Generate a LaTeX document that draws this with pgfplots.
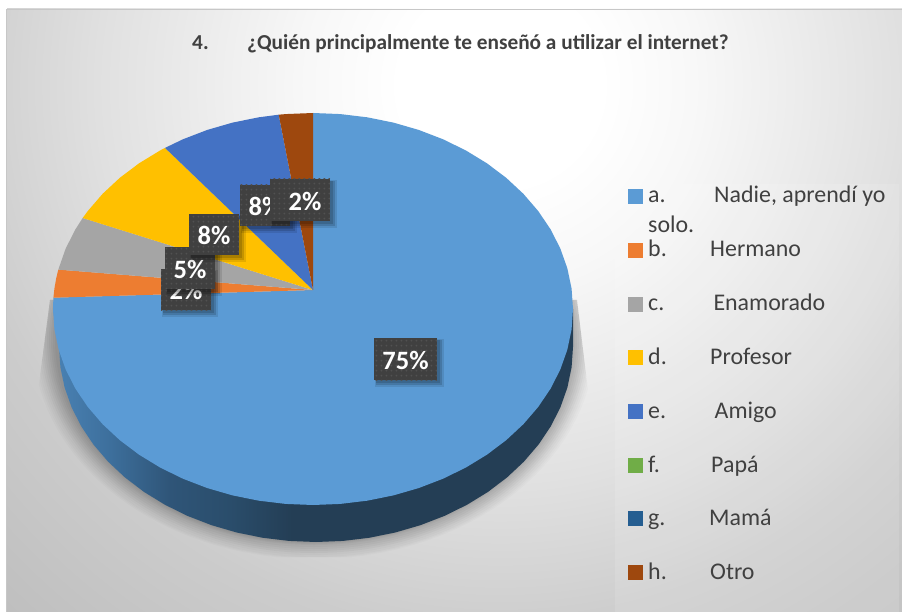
\documentclass[border=0pt]{standalone}
\usepackage{fontspec}
\setmainfont{Carlito}
\usepackage{pgfplots}
\pgfplotsset{compat=1.18}
\usetikzlibrary{patterns.meta}
\definecolor{txt}{HTML}{404040}
\definecolor{ca}{HTML}{5B9BD5}
\definecolor{cb}{HTML}{ED7D31}
\definecolor{cc}{HTML}{A5A5A5}
\definecolor{cd}{HTML}{FFC000}
\definecolor{ce}{HTML}{4472C4}
\definecolor{cf}{HTML}{70AD47}
\definecolor{cg}{HTML}{255E91}
\definecolor{ch}{HTML}{9E480E}
\definecolor{wa}{HTML}{4A82B4}
\definecolor{wb}{HTML}{3D6F9C}
\definecolor{wc}{HTML}{2F5578}
\definecolor{wd}{HTML}{2A4D6B}
\definecolor{we}{HTML}{243E55}
\pgfdeclarehorizontalshading{wallshade}{100bp}{color(0bp)=(wa); color(25bp)=(wa); color(30.5bp)=(wb); color(36.25bp)=(wc); color(42bp)=(wd); color(48bp)=(we); color(100bp)=(we)}
\pgfdeclareradialshading{bgshade}{\pgfpointorigin}{color(0bp)=(white); color(2.5bp)=(white); color(5bp)=(black!3); color(10bp)=(black!12); color(13.75bp)=(black!20); color(18.75bp)=(black!26); color(50bp)=(black!26)}
\newcommand{\lab}[5]{%
  \fill[black,opacity=.10] (axis cs:#1+1,#3+1) rectangle (axis cs:#2+7,#4+7);
  \fill[black,opacity=.14] (axis cs:#1+2,#3+2) rectangle (axis cs:#2+5,#4+5);
  \fill[black,opacity=.14] (axis cs:#1+2,#3+2) rectangle (axis cs:#2+3,#4+3);
  \fill[txt] (axis cs:#1,#3) rectangle (axis cs:#2,#4);
  \fill[pattern={Dots[distance=5.4pt,radius=1.1pt]},pattern color=white!9!txt] (axis cs:#1,#3) rectangle (axis cs:#2,#4);
  \node[text=white,font=\fontsize{26.5}{28}\selectfont\bfseries,anchor=center] at (axis cs:{(#1+#2)/2},{(#3+#4)/2+1}) {#5};}
\newcommand{\legt}[4]{%
  \node[anchor=base west,inner sep=0pt,text=txt,font=\fontsize{23.9}{26}\selectfont] at (axis cs:648,#1) {#2};
  \node[anchor=base west,inner sep=0pt,text=txt,font=\fontsize{23.9}{26}\selectfont] at (axis cs:#3,#1) {#4};}
\begin{document}
\begin{tikzpicture}
\begin{axis}[scale only axis,width=902pt,height=612pt,xmin=0,xmax=902,ymin=0,ymax=612,y dir=reverse,axis lines=none,clip=true]
% background
\fill[white] (axis cs:0,0) rectangle (axis cs:902,612);
\begin{scope}
\clip (axis cs:7,9) rectangle (axis cs:902,612);
\shade[shading=bgshade] (axis cs:500,85) circle (1000pt);
\end{scope}
\draw[black!22,line width=.8pt] (axis cs:6.5,612) -- (axis cs:6.5,9) -- (axis cs:902,9);
\fill[white,opacity=.12] (axis cs:615,184) rectangle (axis cs:899,612);
% shadow
\begin{scope}
\clip (axis cs:50,300) -- (axis cs:36,407) -- (axis cs:36,557) -- (axis cs:590,557) -- (axis cs:590,407) -- (axis cs:577,300) -- cycle;
\fill[black,opacity=.015] (axis cs:314,340) ellipse [x radius=281pt,y radius=219pt];
\fill[black,opacity=.015] (axis cs:314,340) ellipse [x radius=279pt,y radius=218pt];
\fill[black,opacity=.02] (axis cs:314,340) ellipse [x radius=277pt,y radius=217pt];
\fill[black,opacity=.02] (axis cs:314,340) ellipse [x radius=275pt,y radius=215pt];
\fill[black,opacity=.03] (axis cs:314,340) ellipse [x radius=273pt,y radius=213pt];
\fill[black,opacity=.03] (axis cs:314,340) ellipse [x radius=271pt,y radius=211pt];
\fill[black,opacity=.03] (axis cs:314,340) ellipse [x radius=269pt,y radius=209pt];
\fill[black,opacity=.03] (axis cs:314,340) ellipse [x radius=267pt,y radius=207pt];
\fill[black,opacity=.03] (axis cs:314,340) ellipse [x radius=265pt,y radius=205pt];
\fill[black,opacity=.03] (axis cs:314,340) ellipse [x radius=263pt,y radius=204pt];
\fill[black,opacity=.03] (axis cs:314,340) ellipse [x radius=261pt,y radius=203pt];
\fill[black,opacity=.03] (axis cs:314,340) ellipse [x radius=259pt,y radius=202pt];
\end{scope}
% wall
\addplot[draw=none,shading=wallshade,forget plot] coordinates {
(573,309)(573,347)(571.59,367.38)(567.38,387.54)(560.42,407.26)(550.79,426.31)(538.57,444.5)(523.92,461.62)(506.99,477.48)(487.97,491.91)(467.06,504.76)(444.5,515.88)(420.53,525.14)(395.42,532.46)(369.43,537.74)(342.86,540.93)(316,542)(289.14,540.93)(262.57,537.74)(236.58,532.46)(211.47,525.14)(187.5,515.88)(164.94,504.76)(144.03,491.91)(125.01,477.48)(108.08,461.62)(93.43,444.5)(81.21,426.31)(71.58,407.26)(64.62,387.54)(60.41,367.38)(59,347)(53,309)} -- cycle;
% slices
\addplot[draw=none,fill=ca,forget plot] coordinates {
(313,290)(313,113)(340.18,114.07)(367.06,117.29)(393.35,122.59)(418.75,129.94)(443,139.26)(465.83,150.43)(486.97,163.34)(506.22,177.85)(523.35,193.79)(538.17,211)(550.52,229.28)(560.28,248.43)(567.32,268.25)(571.58,288.51)(573,309)(571.58,329.49)(567.32,349.75)(560.28,369.57)(550.52,388.72)(538.17,407)(523.35,424.21)(506.22,440.15)(486.97,454.66)(465.83,467.57)(443,478.74)(418.75,488.06)(393.35,495.41)(367.06,500.71)(340.18,503.93)(313,505)(285.82,503.93)(258.94,500.71)(232.65,495.41)(207.25,488.06)(183,478.74)(160.17,467.57)(139.03,454.66)(119.78,440.15)(102.65,424.21)(87.83,407)(75.48,388.72)(65.72,369.57)(58.68,349.75)(54.42,329.49)(53,309)(53.4,297.7)} -- cycle;
\addplot[draw=none,fill=cb,forget plot] coordinates {(313,290)(53.4,297.7)(54.42,288.51)(56.2,278.34)(58.3,269.6)} -- cycle;
\addplot[draw=none,fill=cc,forget plot] coordinates {(313,290)(58.3,269.6)(65.72,248.43)(75.48,229.28)(82.7,218)} -- cycle;
\addplot[draw=none,fill=cd,forget plot] coordinates {(313,290)(82.7,218)(87.83,211)(102.65,193.79)(119.78,177.85)(139.03,163.34)(160.17,150.43)(165,147.9)} -- cycle;
\addplot[draw=none,fill=ce,forget plot] coordinates {(313,290)(165,147.9)(183,139.26)(207.25,129.94)(232.65,122.59)(258.94,117.29)(278.7,114.7)} -- cycle;
\addplot[draw=none,fill=ch,forget plot] coordinates {(313,290)(278.7,114.7)(285.82,114.07)(313,113)} -- cycle;
% data labels
\lab{161}{211}{269}{310}{2\%}
\lab{165}{215}{247}{289}{5\%}
\lab{189}{239}{214}{255}{8\%}
\lab{240}{290}{185}{226}{8\%}
\lab{270}{330}{179}{221}{\hspace{10pt}2\%}
\lab{374}{437}{338}{380}{75\%}
% title
\node[anchor=base west,inner sep=0pt,text=txt,font=\fontsize{21.3}{23}\selectfont\bfseries] at (axis cs:192,50) {4.};
\node[anchor=base west,inner sep=0pt,text=txt,font=\fontsize{21.3}{23}\selectfont\bfseries] at (axis cs:247,50) {¿Quién principalmente te enseñó a utilizar el internet?};
% legend
\addplot[only marks,mark=square*,mark size=7pt,color=ca] coordinates {(635,196)};
\addplot[only marks,mark=square*,mark size=7pt,color=cb] coordinates {(635,250)};
\addplot[only marks,mark=square*,mark size=7pt,color=cc] coordinates {(635,304)};
\addplot[only marks,mark=square*,mark size=7pt,color=cd] coordinates {(635,357)};
\addplot[only marks,mark=square*,mark size=7pt,color=ce] coordinates {(635,411)};
\addplot[only marks,mark=square*,mark size=7pt,color=cf] coordinates {(635,465)};
\addplot[only marks,mark=square*,mark size=7pt,color=cg] coordinates {(635,518)};
\addplot[only marks,mark=square*,mark size=7pt,color=ch] coordinates {(635,572)};
\legt{203}{a.}{714}{Nadie, aprendí yo}
\node[anchor=base west,inner sep=0pt,text=txt,font=\fontsize{23.9}{26}\selectfont] at (axis cs:648,233) {solo.};
\legt{257}{b.}{710}{Hermano}
\legt{311}{c.}{713.3}{Enamorado}
\legt{364}{d.}{710}{Profesor}
\legt{418}{e.}{714.5}{Amigo}
\legt{472}{f.}{711}{Papá}
\legt{525}{g.}{709}{Mamá}
\legt{579}{h.}{710}{Otro}
\end{axis}
\end{tikzpicture}
\end{document}
